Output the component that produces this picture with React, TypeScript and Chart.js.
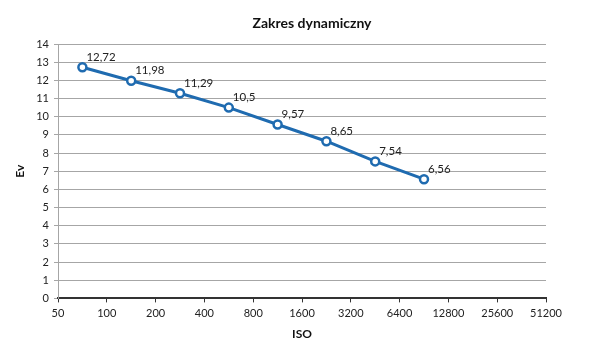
import React, { useEffect, useRef } from "react";
import { Chart, registerables } from "chart.js";

Chart.register(...registerables);

const isoTicks = ["50", "100", "200", "400", "800", "1600", "3200", "6400", "12800", "25600", "51200"];
const evValues = [12.72, 11.98, 11.29, 10.5, 9.57, 8.65, 7.54, 6.56];
const evLabels = ["12,72", "11,98", "11,29", "10,5", "9,57", "8,65", "7,54", "6,56"];
const chartTitle = "Zakres dynamiczny";

const FONT = "Lato, 'Open Sans', sans-serif";
const BLUE = "#1F6BB0";

const labelPlugin = {
  id: "pointLabels",
  afterDatasetsDraw(chart: any) {
    const ctx = chart.ctx;
    const meta = chart.getDatasetMeta(0);
    ctx.save();
    ctx.font = `11.5px ${FONT}`;
    ctx.fillStyle = "#222";
    ctx.textAlign = "left";
    ctx.textBaseline = "middle";
    meta.data.forEach((pt: any, i: number) => {
      ctx.fillText(evLabels[i], pt.x + 4, pt.y - 10);
    });
    ctx.restore();
  },
};

const titlePlugin = {
  id: "customTitle",
  afterDraw(chart: any) {
    const ctx = chart.ctx;
    ctx.save();
    ctx.font = `bold 14px ${FONT}`;
    ctx.fillStyle = "#111";
    ctx.textAlign = "center";
    ctx.textBaseline = "middle";
    ctx.fillText(chartTitle, (chart.chartArea.left + chart.chartArea.right) / 2 + 10, 23);
    ctx.restore();
  },
};

export default function App() {
  const ref = useRef<HTMLCanvasElement>(null);
  useEffect(() => {
    if (!ref.current) return;
    const chart = new Chart(ref.current, {
      type: "line",
      data: {
        datasets: [
          {
            data: evValues.map((v, i) => ({ x: i + 0.5, y: v })),
            borderColor: BLUE,
            borderWidth: 3,
            pointRadius: 4,
            pointBorderWidth: 2.5,
            pointBackgroundColor: "#ffffff",
            pointBorderColor: BLUE,
            tension: 0,
          },
        ],
      },
      options: {
        animation: false,
        responsive: false,
        maintainAspectRatio: false,
        layout: { padding: { left: 13, right: 54, top: 44, bottom: 12 } },
        plugins: {
          legend: { display: false },
          tooltip: { enabled: false },
          title: { display: false },
        },
        scales: {
          x: {
            type: "linear",
            min: 0,
            max: isoTicks.length - 1,
            afterBuildTicks(scale: any) {
              scale.ticks = isoTicks.map((_, i) => ({ value: i }));
            },
            ticks: {
              autoSkip: false,
              maxRotation: 0,
              color: "#222",
              font: { family: FONT, size: 11 },
              padding: 4,
              callback: (v: any) => isoTicks[Math.round(Number(v))],
            },
            grid: {
              drawOnChartArea: false,
              drawTicks: true,
              tickLength: 4,
              color: "#333",
            },
            border: { color: "#333", width: 2 },
            title: {
              display: true,
              text: "ISO",
              color: "#111",
              font: { family: FONT, size: 12, weight: "bold" },
              padding: { top: 3, bottom: 0 },
            },
          },
          y: {
            min: 0,
            max: 14,
            afterFit(scale: any) {
              scale.width = 45;
            },
            ticks: {
              stepSize: 1,
              color: "#222",
              font: { family: FONT, size: 11 },
              padding: 5,
            },
            grid: {
              color: "#a6a6a6",
              tickLength: 4,
              lineWidth: 1,
            },
            border: { color: "#a6a6a6", width: 1 },
            title: {
              display: true,
              text: "Ev",
              color: "#111",
              font: { family: FONT, size: 12, weight: "bold" },
              padding: { top: 0, bottom: 4 },
            },
          },
        },
      },
      plugins: [labelPlugin, titlePlugin],
    });
    return () => chart.destroy();
  }, []);
  return (
    <div style={{ position: "absolute", left: 0, top: 0, width: 600, height: 353, background: "#fff" }}>
      <canvas ref={ref} width={600} height={353} style={{ width: 600, height: 353 }} />
    </div>
  );
}
